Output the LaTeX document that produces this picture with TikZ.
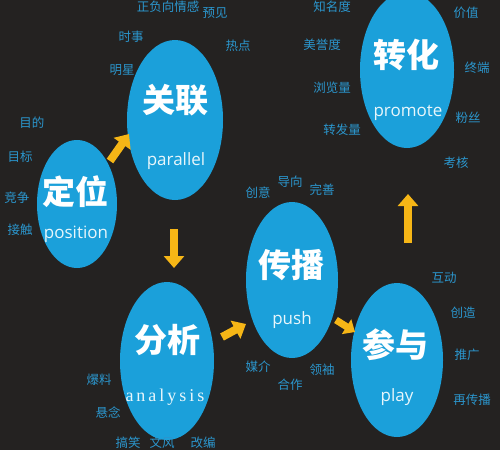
\documentclass[tikz,border=0pt]{standalone}
\usepackage{fontspec}
\setmainfont{Open Sans}
\newfontfamily\cjk{Noto Sans CJK SC}
\newfontfamily\enserif{Liberation Serif}
\usetikzlibrary{shapes.geometric,arrows.meta}
\definecolor{bg}{RGB}{36,34,33}
\definecolor{bub}{RGB}{27,160,218}
\definecolor{lab}{RGB}{43,150,205}
\definecolor{arr}{RGB}{246,182,22}
\tikzset{
  bubble/.style={ellipse,fill=bub,inner sep=0pt},
  title/.style={font=\cjk\bfseries\fontsize{33}{33}\selectfont,text=white,inner sep=0pt},
  sub/.style={font=\fontsize{17}{17}\selectfont,text=white!90!bub,inner sep=0pt},
  kw/.style={font=\cjk\fontsize{12.5}{12.5}\selectfont,text=lab,inner sep=0pt},
  bigarrow/.style={draw=arr,line width=8pt,-{Triangle[width=20pt,length=12pt]}},
}
\begin{document}
\begin{tikzpicture}[x=1pt,y=-1pt]
\fill[bg] (0,0) rectangle (500,450);
\useasboundingbox (0,0) rectangle (500,450);

% bubbles
\node[bubble,minimum width=80pt,minimum height=128pt] (dw) at (77,204) {};
\node[bubble,minimum width=96pt,minimum height=160pt] (gl) at (175,120) {};
\node[bubble,minimum width=94pt,minimum height=158pt] (fx) at (167,361) {};
\node[bubble,minimum width=92pt,minimum height=156pt] (cb) at (292,280) {};
\node[bubble,minimum width=92pt,minimum height=154pt] (cy) at (397,360) {};
\node[bubble,minimum width=94pt,minimum height=156pt] (zh) at (407,70) {};

% titles
\node[title] (t1) at (75,192) {定位};
\node[sub] (s1) at (76,234) {position};
\node[title] (t2) at (175,100) {关联};
\node[sub] (s2) at (176,161) {parallel};
\node[title] (t3) at (167,340) {分析};
\node[sub,font=\enserif\fontsize{18}{18}\selectfont,text=white!90!bub] (s3) at (165,397) {a\,n\,a\,l\,y\,s\,i\,s};
\node[title] (t4) at (291,265) {传播};
\node[sub] (s4) at (292,320) {push};
\node[title] (t5) at (395,345) {参与};
\node[sub] (s5) at (397,397) {play};
\node[title] (t6) at (406,55) {转化};
\node[sub] (s6) at (408,113) {promote};

% arrows
\coordinate (a1s) at (110,161); \coordinate (a1e) at (129,134);
\coordinate (a2s) at (174,229); \coordinate (a2e) at (174,268);
\coordinate (a3s) at (222,337); \coordinate (a3e) at (246,324);
\coordinate (a4s) at (336,320); \coordinate (a4e) at (355,332);
\coordinate (a5s) at (408,243); \coordinate (a5e) at (408,194);
\draw[bigarrow] (a1s) -- (a1e);
\draw[bigarrow] (a2s) -- (a2e);
\draw[bigarrow] (a3s) -- (a3e);
\draw[bigarrow,line width=7pt,-{Triangle[width=17pt,length=10pt]}] (a4s) -- (a4e);
\draw[bigarrow] (a5s) -- (a5e);

% keywords
\node[kw] (k1) at (168,7) {正负向情感};
\node[kw] (k2) at (215,13) {预见};
\node[kw] (k3) at (131,37) {时事};
\node[kw] (k4) at (238,46) {热点};
\node[kw] (k5) at (122,70) {明星};
\node[kw] (k6) at (32,123) {目的};
\node[kw] (k7) at (20,157) {目标};
\node[kw] (k8) at (17,198) {竞争};
\node[kw] (k9) at (20,230) {接触};
\node[kw] (k10) at (332,7) {知名度};
\node[kw] (k11) at (322,45) {美誉度};
\node[kw] (k12) at (332,88) {浏览量};
\node[kw] (k13) at (342,130) {转发量};
\node[kw] (k14) at (466,13) {价值};
\node[kw] (k15) at (477,68) {终端};
\node[kw] (k16) at (468,118) {粉丝};
\node[kw] (k17) at (456,163) {考核};
\node[kw] (k18) at (258,193) {创意};
\node[kw] (k19) at (290,182) {导向};
\node[kw] (k20) at (322,190) {完善};
\node[kw] (k21) at (444,278) {互动};
\node[kw] (k22) at (463,313) {创造};
\node[kw] (k23) at (467,355) {推广};
\node[kw] (k24) at (472,400) {再传播};
\node[kw] (k25) at (322,370) {领袖};
\node[kw] (k26) at (258,367) {媒介};
\node[kw] (k27) at (290,385) {合作};
\node[kw] (k28) at (99,380) {爆料};
\node[kw] (k29) at (108,413) {悬念};
\node[kw] (k30) at (128,443) {搞笑};
\node[kw] (k31) at (162,443) {文风};
\node[kw] (k32) at (203,443) {改编};
\end{tikzpicture}
\end{document}
